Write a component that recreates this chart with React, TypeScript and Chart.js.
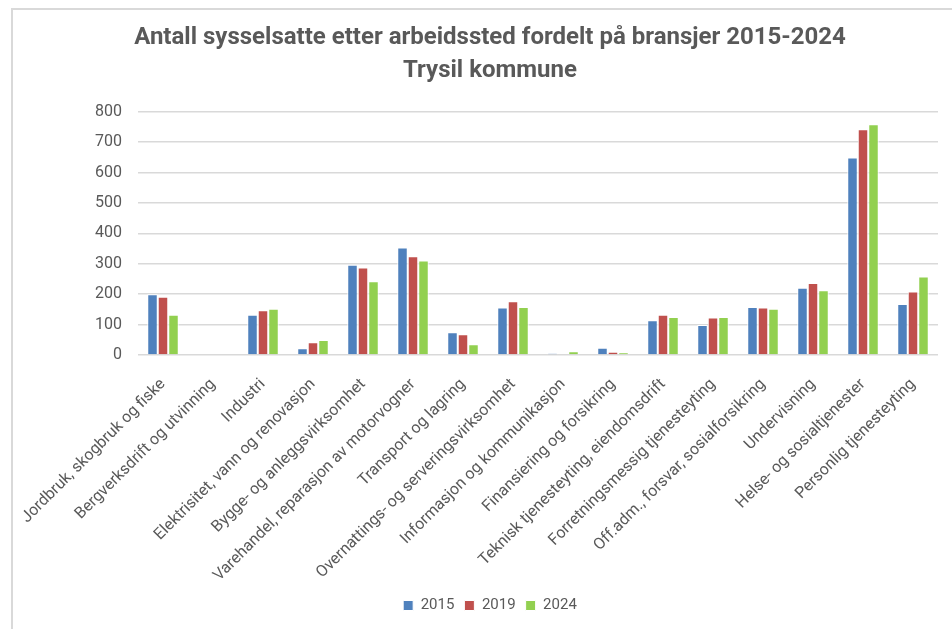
import React, { useEffect, useRef } from "react";
import { Chart, registerables } from "chart.js";

Chart.register(...registerables);

const titleLines = [
  "Antall sysselsatte etter arbeidssted fordelt på bransjer 2015-2024",
  "Trysil kommune",
];

const categories = [
  "Jordbruk, skogbruk og fiske",
  "Bergverksdrift og utvinning",
  "Industri",
  "Elektrisitet, vann og renovasjon",
  "Bygge- og anleggsvirksomhet",
  "Varehandel, reparasjon av motorvogner",
  "Transport og lagring",
  "Overnattings- og serveringsvirksomhet",
  "Informasjon og kommunikasjon",
  "Finansiering og forsikring",
  "Teknisk tjenesteyting, eiendomsdrift",
  "Forretningsmessig tjenesteyting",
  "Off.adm., forsvar, sosialforsikring",
  "Undervisning",
  "Helse- og sosialtjenester",
  "Personlig tjenesteyting",
];

const seriesLabels = ["2015", "2019", "2024"];
const values2015 = [200, 0, 132, 22, 297, 354, 75, 156, 5, 24, 114, 99, 158, 221, 650, 168];
const values2019 = [192, 0, 147, 42, 288, 325, 68, 177, 0, 11, 132, 123, 156, 237, 743, 209];
const values2024 = [132, 0, 152, 49, 243, 311, 35, 158, 12, 9, 125, 125, 152, 213, 759, 258];
const seriesColors = ["#4f81bd", "#c0504d", "#92d050"];

const yMin = 0;
const yMax = 800;
const yStep = 100;

const FONT = "'Roboto', 'Liberation Sans', sans-serif";
const TEXT = "#595959";

export default function App() {
  const ref = useRef<HTMLCanvasElement | null>(null);

  useEffect(() => {
    if (!ref.current) return;
    const chart = new Chart(ref.current, {
      type: "bar",
      data: {
        labels: categories,
        datasets: [values2015, values2019, values2024].map((vals, i) => ({
          label: seriesLabels[i],
          data: vals,
          backgroundColor: seriesColors[i],
          borderColor: "#ffffff",
          borderWidth: 1,
          borderSkipped: "bottom" as const,
          categoryPercentage: 0.63,
          barPercentage: 1,
        })),
      },
      options: {
        animation: false,
        responsive: false,
        maintainAspectRatio: false,
        layout: { padding: { left: 42, right: 14, top: 0, bottom: 6 } },
        plugins: {
          title: {
            display: true,
            text: titleLines,
            color: TEXT,
            font: { family: FONT, size: 24, weight: "bold", lineHeight: 1.35 },
            padding: { top: 22, bottom: 25 },
          },
          legend: {
            position: "bottom",
            labels: {
              color: TEXT,
              font: { family: FONT, size: 15 },
              boxWidth: 10,
              boxHeight: 10,
              padding: 10,
            },
          },
          tooltip: { enabled: false },
        },
        scales: {
          x: {
            grid: { display: false },
            border: { display: false },
            ticks: {
              color: TEXT,
              font: { family: FONT, size: 16 },
              autoSkip: false,
              minRotation: 45,
              maxRotation: 45,
              padding: 12,
            },
            afterFit: (scale: any) => {
              scale.height = 233;
            },
          },
          y: {
            min: yMin,
            max: yMax,
            grid: { color: "#d9d9d9", lineWidth: 1.5, drawTicks: false },
            border: { display: false },
            ticks: {
              stepSize: yStep,
              color: TEXT,
              font: { family: FONT, size: 16 },
              padding: 16,
            },
            afterFit: (scale: any) => {
              scale.width = 96;
            },
          },
        },
      },
    });
    return () => chart.destroy();
  }, []);

  return (
    <div
      style={{
        position: "fixed",
        left: 0,
        top: 0,
        width: 952,
        height: 629,
        background: "#ffffff",
        overflow: "hidden",
      }}
    >
      <div
        style={{
          position: "absolute",
          left: 11,
          top: 8,
          width: 941,
          height: 621,
          borderLeft: "2px solid #d9d9d9",
          borderTop: "2px solid #d9d9d9",
          boxSizing: "border-box",
        }}
      />
      <canvas
        ref={ref}
        width={952}
        height={629}
        style={{ position: "absolute", left: 0, top: 0, width: 952, height: 629 }}
      />
    </div>
  );
}
